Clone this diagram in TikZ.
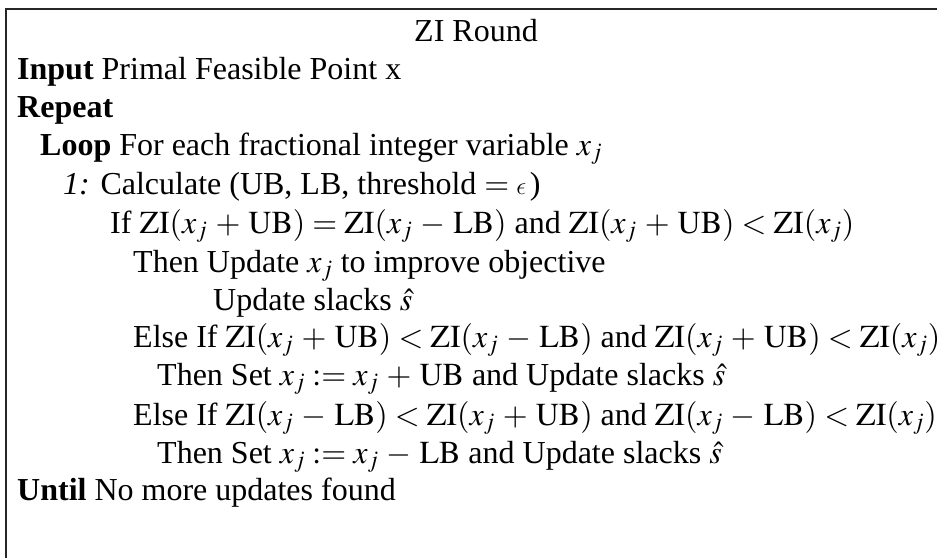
\documentclass[tikz,border=0pt]{standalone}
\usepackage{mathptmx}
\usepackage[no-math]{fontspec}
\setmainfont{Liberation Serif}
\newcommand{\lunateeps}{\mbox{\fontencoding{OML}\fontfamily{lmm}\fontseries{m}\fontshape{it}\selectfont\char"0F}}
\begin{document}
\medmuskip=4.5mu plus 2mu minus 2mu\relax
\begin{tikzpicture}[x=1pt,y=-1pt,
  txt/.style={anchor=base west, inner sep=0pt, font=\fontsize{32}{38}\selectfont},
  frame/.style={line width=2.2pt, draw=black!85}]
\useasboundingbox (0,0) rectangle (937,557);
\coordinate (fb) at (6,570);
\coordinate (ftl) at (6,9);
\coordinate (fr) at (960,9);
\draw[frame] (fb) -- (ftl) -- (fr);
\node[txt, anchor=base] (title) at (476,41) {ZI Round};
\node[txt] (input) at (17,79) {\textbf{Input} Primal Feasible Point x};
\node[txt] (repeat) at (17,117) {\textbf{Repeat}};
\node[txt] (loop) at (40,155) {\textbf{Loop} For each fractional integer variable $x_j$};
\node[txt] (calc) at (63,194) {\textit{1:} Calculate (UB, LB, threshold $=\lunateeps\,$)};
\node[txt] (if1) at (110,233) {If $\mathrm{ZI}(x_j+\mathrm{UB})=\mathrm{ZI}(x_j-\mathrm{LB})$ and $\mathrm{ZI}(x_j+\mathrm{UB})<\mathrm{ZI}(x_j)$};
\node[txt] (then1) at (133,272) {Then Update $x_j$ to improve objective};
\node[txt] (upd1) at (213,310) {Update slacks $\hat{s}$};
\node[txt] (elif1) at (133,347) {Else If $\mathrm{ZI}(x_j+\mathrm{UB})<\mathrm{ZI}(x_j-\mathrm{LB})$ and $\mathrm{ZI}(x_j+\mathrm{UB})<\mathrm{ZI}(x_j)$};
\node[txt] (then2) at (157,385) {Then Set $x_j:=x_j+\mathrm{UB}$ and Update slacks $\hat{s}$};
\node[txt] (elif2) at (133,425) {Else If $\mathrm{ZI}(x_j-\mathrm{LB})<\mathrm{ZI}(x_j+\mathrm{UB})$ and $\mathrm{ZI}(x_j-\mathrm{LB})<\mathrm{ZI}(x_j)$};
\node[txt] (then3) at (157,463) {Then Set $x_j:=x_j-\mathrm{LB}$ and Update slacks $\hat{s}$};
\node[txt] (until) at (17,500) {\textbf{Until} No more updates found};
\end{tikzpicture}
\end{document}
